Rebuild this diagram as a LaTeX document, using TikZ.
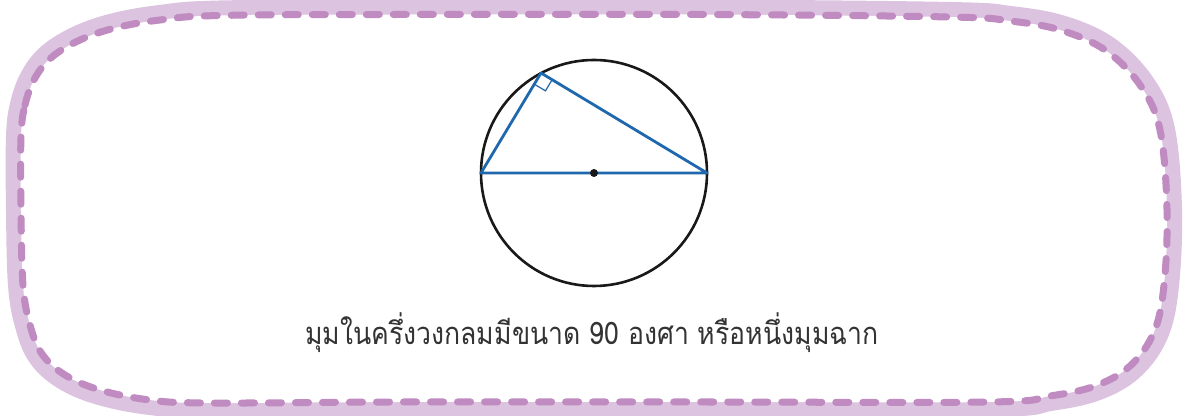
\documentclass[tikz,border=0pt]{standalone}
\usepackage{fontspec}
\newfontfamily\thaifont[Script=Thai, FakeStretch=0.86]{Loma}
\usetikzlibrary{calc}
\definecolor{bandlilac}{HTML}{DCC3E0}
\definecolor{dashlilac}{HTML}{BF8BC0}
\definecolor{lineblue}{HTML}{1F68AE}
\tikzstyle{band} = [draw=bandlilac, line width=0.3cm, line join=round]
\tikzstyle{dashline} = [draw=dashlilac, line width=0.07cm, line cap=round, dash pattern=on 0.13cm off 0.14cm]
\tikzstyle{rim} = [draw=black!90, line width=0.026cm]
\tikzstyle{side} = [draw=lineblue, line width=0.028cm, line join=round]
\tikzstyle{caption} = [font=\thaifont\fontsize{8.8}{11}\selectfont, text=black!80, anchor=base]

\begin{document}
\begin{tikzpicture}[x=0.01cm, y=-0.01cm]
			\useasboundingbox (0,0) rectangle (1188,416);
			% Frame path
			\def\framepath{plot[smooth cycle, tension=0.6] coordinates {
				(21,137) (25,105) (35,78) (52,57) (80,40) (115,28) (160,20) (220,15.5)
				(400,14.5) (700,14.5) (950,17) (1010,21) (1060,30) (1105,50) (1140,85)
				(1160,130) (1167,210) (1164,285) (1154,332) (1130,366) (1095,386)
				(1050,396) (990,402) (700,402) (400,402) (210,403) (150,400) (100,390)
				(65,375) (42,354) (30,325) (23,285) (21,210)}}
			\path[band] \framepath;
			\fill[white] \framepath;
			\path[dashline] \framepath;

			% Circle and triangle
			\coordinate (O) at (594,173);
			\coordinate (A) at (481,173);
			\coordinate (B) at (707,173);
			\coordinate (C) at (541,73);
			\draw[rim] (O) circle (113);
			\draw[side] (A) -- (C) -- (B) -- cycle;
			\draw[draw=lineblue, line width=0.012cm] ($(C)!0.13cm!(A)$) -- ($($(C)!0.13cm!(A)$)!0.13cm!90:(A)$)
				-- ($(C)!0.13cm!(B)$);
			\fill[black!90] (O) circle (4);

			% Caption
			\node (cap) [caption] at (592,345) {มุมในครึ่งวงกลมมีขนาด 90 องศา หรือหนึ่งมุมฉาก};
		\end{tikzpicture}
\end{document}
